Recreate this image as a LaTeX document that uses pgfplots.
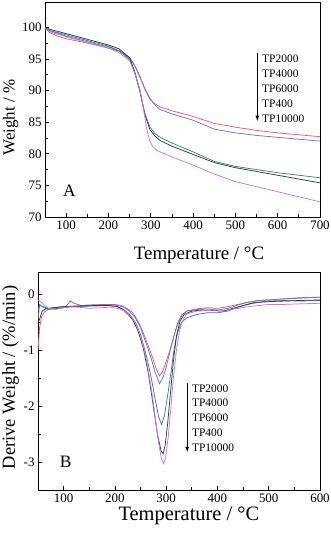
\documentclass[border=0pt]{standalone}
\usepackage{fontspec}
\setmainfont{Liberation Serif}
\usepackage{pgfplots}
\pgfplotsset{compat=1.18}
\definecolor{tpred}{RGB}{250,85,95}
\definecolor{tpblue}{RGB}{95,115,235}
\definecolor{tpgreen}{RGB}{45,140,120}
\definecolor{tpblack}{RGB}{55,55,55}
\definecolor{tpmag}{RGB}{200,115,245}
\pgfplotsset{
  tgastyle/.style={
    scale only axis,
    axis line style={line width=0.9pt},
    tick align=inside,
    xtick pos=bottom, ytick pos=left,
    minor x tick num=1, minor y tick num=1,
    major tick length=4bp, minor tick length=2.5bp,
    every tick/.style={line width=0.8pt, black},
    /pgf/number format/assume math mode=true,
    /pgf/number format/1000 sep={},
    every axis plot/.append style={line width=0.75pt, no markers},
  }
}
\begin{document}
\begin{tikzpicture}
\useasboundingbox (0,0) rectangle (331bp,534bp);
% ---------------- Panel A ----------------
\begin{axis}[tgastyle,
  at={(45bp,317bp)}, anchor=south west,
  width=275bp, height=215bp,
  xmin=50, xmax=700, ymin=70, ymax=104,
  xtick={100,200,...,700}, ytick={70,75,...,100},
  ticklabel style={font=\fontsize{13}{13}\selectfont},
  xlabel={Temperature / °C},
  ylabel={Weight / \%},
  xlabel style={font=\fontsize{19}{19}\selectfont, at={(axis description cs:0.56,-0.2)}, anchor=base, inner sep=0pt},
  ylabel style={font=\fontsize{17}{17}\selectfont, at={(axis description cs:-0.125,0.463)}, anchor=center, inner sep=0pt},
]
\addplot[tpred] coordinates {(50,100) (60,99.2) (80,98.6) (100,98.2) (150,97.5) (200,96.7) (225,96.2) (250,95.1) (262,93.9) (274,92.2) (286,90.2) (298,88.6) (310,87.9) (322,87.4) (350,86.8) (400,85.9) (450,84.8) (500,84.2) (550,83.7) (600,83.3) (650,83.0) (700,82.7)};
\addplot[tpblue] coordinates {(50,100) (60,99.5) (100,98.6) (150,97.7) (200,96.9) (225,96.3) (250,95.2) (262,94.0) (274,92.3) (286,90.3) (298,88.8) (310,87.7) (322,87.0) (350,86.3) (400,85.3) (450,83.9) (500,83.3) (550,82.9) (600,82.6) (650,82.3) (700,82.0)};
\addplot[tpgreen] coordinates {(50,100) (60,99.5) (100,98.8) (150,97.9) (200,97.0) (225,96.3) (250,94.9) (262,92.8) (274,90.0) (286,86.4) (298,84.2) (310,83.2) (322,82.6) (350,81.7) (400,80.3) (450,78.8) (500,78.0) (550,77.5) (600,77.0) (650,76.6) (700,76.2)};
\addplot[tpblack] coordinates {(50,100.1) (60,99.7) (100,99.0) (150,98.1) (200,97.2) (225,96.6) (250,95.2) (262,93.0) (274,90.0) (286,86.2) (298,83.8) (310,82.8) (322,82.1) (350,81.2) (400,79.9) (450,78.6) (500,77.8) (550,77.2) (600,76.6) (650,76.0) (700,75.4)};
\addplot[tpmag] coordinates {(50,99.8) (60,99.3) (100,98.5) (150,97.6) (200,96.7) (225,96.0) (250,94.7) (262,92.8) (274,90.2) (282,87.5) (290,84.0) (298,82.0) (305,81.1) (315,80.5) (329,80.1) (350,79.5) (400,78.2) (450,76.8) (500,75.6) (550,74.8) (600,74.0) (650,73.2) (700,72.4)};
\draw[line width=0.8pt, -latex] (axis cs:552,96.0) -- (axis cs:552,85.2);
\begin{scope}[every node/.style={anchor=west, font=\fontsize{11.5}{11.5}\selectfont, inner sep=0pt}]
\node at (axis cs:563,95.1) {TP2000};
\node at (axis cs:563,92.7) {TP4000};
\node at (axis cs:563,90.3) {TP6000};
\node at (axis cs:563,87.9) {TP400};
\node at (axis cs:563,85.5) {TP10000};
\end{scope}
\node[font=\fontsize{17.5}{17.5}\selectfont] at (axis cs:108,74.2) {A};
\end{axis}
% ---------------- Panel B ----------------
\begin{axis}[tgastyle,
  at={(38bp,44bp)}, anchor=south west,
  width=282bp, height=218bp,
  xmin=50, xmax=600, ymin=-3.5, ymax=0.4,
  xtick={100,200,...,600}, ytick={-3,-2,-1,0},
  ticklabel style={font=\fontsize{13}{13}\selectfont},
  xlabel={Temperature / °C},
  ylabel={Derive Weight / (\%/min)},
  xlabel style={font=\fontsize{20.5}{20.5}\selectfont, at={(axis description cs:0.535,-0.142)}, anchor=base, inner sep=0pt},
  ylabel style={font=\fontsize{18.5}{18.5}\selectfont, at={(axis description cs:-0.098,0.516)}, anchor=center, inner sep=0pt},
]
\addplot[tpred] coordinates {(50,-1.0) (53,-0.6) (57,-0.4) (62,-0.32) (70,-0.27) (90,-0.23) (120,-0.21) (150,-0.19) (180,-0.18) (200,-0.18) (213,-0.2) (225,-0.26) (235,-0.33) (245,-0.48) (255,-0.68) (265,-0.92) (273,-1.12) (280,-1.32) (287,-1.46) (293,-1.38) (300,-1.2) (308,-0.98) (315,-0.75) (322,-0.55) (330,-0.38) (340,-0.3) (360,-0.26) (380,-0.24) (400,-0.25) (420,-0.22) (440,-0.18) (460,-0.14) (480,-0.11) (500,-0.1) (530,-0.08) (560,-0.07) (600,-0.05)};
\addplot[tpblue] coordinates {(50,-0.45) (53,-0.2) (60,-0.22) (70,-0.25) (90,-0.23) (105,-0.21) (113,-0.12) (120,-0.16) (135,-0.2) (160,-0.19) (200,-0.19) (215,-0.22) (228,-0.3) (240,-0.42) (250,-0.6) (260,-0.85) (270,-1.12) (278,-1.38) (287,-1.6) (294,-1.48) (300,-1.3) (308,-1.0) (315,-0.75) (322,-0.52) (330,-0.37) (340,-0.3) (360,-0.27) (380,-0.26) (400,-0.28) (420,-0.25) (440,-0.19) (460,-0.14) (480,-0.11) (500,-0.1) (530,-0.08) (560,-0.06) (600,-0.05)};
\addplot[tpgreen] coordinates {(50,-0.3) (53,-0.18) (60,-0.23) (70,-0.27) (90,-0.25) (120,-0.22) (150,-0.21) (190,-0.2) (205,-0.22) (215,-0.26) (228,-0.35) (240,-0.5) (250,-0.72) (260,-1.05) (270,-1.45) (278,-1.85) (285,-2.18) (291,-2.33) (297,-2.15) (303,-1.8) (310,-1.35) (316,-0.95) (322,-0.68) (330,-0.5) (340,-0.42) (360,-0.36) (380,-0.33) (400,-0.33) (420,-0.3) (440,-0.23) (460,-0.18) (480,-0.14) (500,-0.12) (530,-0.11) (560,-0.12) (600,-0.11)};
\addplot[tpblack] coordinates {(50,-0.5) (53,-0.45) (58,-0.3) (65,-0.26) (80,-0.24) (100,-0.22) (130,-0.21) (160,-0.2) (190,-0.2) (205,-0.22) (215,-0.27) (225,-0.35) (235,-0.46) (245,-0.65) (255,-0.95) (265,-1.4) (275,-2.0) (283,-2.5) (290,-2.8) (294,-2.85) (298,-2.7) (303,-2.3) (308,-1.8) (314,-1.2) (320,-0.75) (327,-0.48) (335,-0.36) (350,-0.3) (370,-0.28) (390,-0.29) (410,-0.3) (430,-0.25) (450,-0.2) (470,-0.15) (500,-0.13) (530,-0.12) (560,-0.11) (600,-0.1)};
\addplot[tpmag] coordinates {(50,-0.1) (55,-0.13) (62,-0.19) (70,-0.25) (85,-0.27) (95,-0.25) (110,-0.22) (130,-0.23) (150,-0.25) (170,-0.24) (190,-0.23) (210,-0.26) (222,-0.31) (232,-0.4) (242,-0.55) (252,-0.8) (262,-1.2) (272,-1.75) (280,-2.3) (286,-2.7) (291,-2.95) (295,-3.03) (299,-2.92) (304,-2.55) (309,-2.05) (314,-1.5) (320,-1.0) (326,-0.65) (333,-0.45) (340,-0.35) (360,-0.3) (380,-0.29) (400,-0.28) (420,-0.28) (440,-0.25) (460,-0.22) (480,-0.2) (500,-0.18) (530,-0.18) (560,-0.17) (600,-0.16)};
\draw[line width=0.8pt, -latex] (axis cs:341,-1.58) -- (axis cs:341,-2.82);
\begin{scope}[every node/.style={anchor=west, font=\fontsize{11.5}{11.5}\selectfont, inner sep=0pt}]
\node at (axis cs:350,-1.68) {TP2000};
\node at (axis cs:350,-1.94) {TP4000};
\node at (axis cs:350,-2.21) {TP6000};
\node at (axis cs:350,-2.48) {TP400};
\node at (axis cs:350,-2.74) {TP10000};
\end{scope}
\node[font=\fontsize{17.5}{17.5}\selectfont] at (axis cs:104,-3.0) {B};
\end{axis}
\end{tikzpicture}
\end{document}
